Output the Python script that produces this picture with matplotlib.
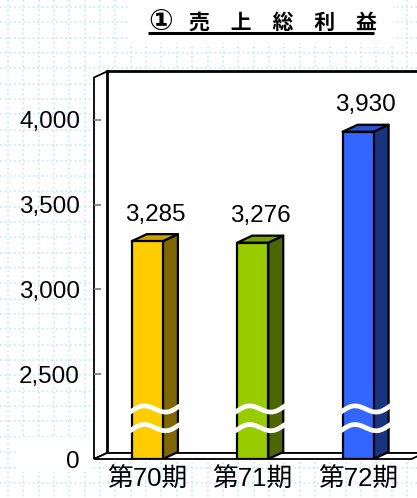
import numpy as np
import matplotlib
matplotlib.use("Agg")
import matplotlib.pyplot as plt
from matplotlib.patches import Polygon, Rectangle

plt.rcParams['font.family'] = ['Liberation Sans', 'Noto Sans CJK JP', 'DejaVu Sans']

# ---- data ----
categories = ["第70期", "第71期", "第72期"]
values = [3285, 3276, 3930]
value_labels = ["3,285", "3,276", "3,930"]
tick_values = [0, 2500, 3000, 3500, 4000]
tick_labels = ["0", "2,500", "3,000", "3,500", "4,000"]
title_mark = "①"
title = "売　上　総　利　益"

front_colors = ["#FFCC00", "#99CC00", "#3366FF"]
side_colors = ["#806600", "#4D6600", "#1A3380"]
top_colors = ["#C8A000", "#7AA300", "#2850D0"]

# axis break: value 0 is drawn at the position of 2000
BASE = 2000
YTOP = 4250
def ypos(v):
    return v if v >= 2500 else BASE

W, H = 417, 498
fig = plt.figure(figsize=(W / 100, H / 100), dpi=100)
fig.patch.set_facecolor("white")

# ---- background grid (pixel coordinates) ----
bg = fig.add_axes([0, 0, 1, 1], zorder=0)
bg.set_xlim(0, W)
bg.set_ylim(H, 0)
bg.axis("off")
grid_c = "#C8E6FA"
for gx in np.arange(8, W, 15.35):
    bg.plot([gx, gx], [0, H], color=grid_c, lw=1.2, ls=(0, (1, 1.8)))
for gy in np.arange(7, H, 15.35):
    bg.plot([0, W], [gy, gy], color=grid_c, lw=1.2, ls=(0, (1, 1.8)))
# white boxes (title, "0" label)
bg.add_patch(Rectangle((130, 0), 263, 43, facecolor="white", edgecolor="none", zorder=3))
bg.add_patch(Rectangle((17, 437), 77, 35, facecolor="white", edgecolor="none", zorder=3))
# title
bg.text(160.5, 22, title_mark, ha="center", va="center", fontsize=21, fontweight="bold",
        color="black", zorder=4, family=['DejaVu Sans', 'Noto Sans CJK JP'])
bg.text(282.5, 22, title, ha="center", va="center", fontsize=15, fontweight="bold",
        color="black", zorder=4, family=['Noto Sans CJK JP'])
bg.plot([148, 374], [32.5, 32.5], color="black", lw=2.2, zorder=4, solid_capstyle="butt")

# ---- main axes (front plane) ----
left_px, right_px = 94, 411.5
bot_px, top_px = 459, 77.5
ax = fig.add_axes([left_px / W, 1 - bot_px / H, (right_px - left_px) / W, (bot_px - top_px) / H],
                  zorder=1)
ax.patch.set_alpha(0)
x = np.arange(len(categories))
XL = (-0.507, 2.507)
ax.set_xlim(*XL)
ax.set_ylim(BASE, YTOP)
for s in ax.spines.values():
    s.set_visible(False)

pxx = (right_px - left_px) / (XL[1] - XL[0])
pxy = (bot_px - top_px) / (YTOP - BASE)
DXw, DYw = 13 / pxx, 6 / pxy      # wall depth
DXb, DYb = 15 / pxx, 7 / pxy      # bar depth
lw = 1.6

# back wall
ax.add_patch(Polygon([(XL[0] + DXw, BASE + DYw), (XL[0] + DXw, YTOP + DYw),
                      (XL[1] + DXw, YTOP + DYw), (XL[1] + DXw, BASE + DYw)],
                     closed=True, facecolor="white", edgecolor="black", lw=2.0,
                     zorder=1, clip_on=False))
# left wall
ax.add_patch(Polygon([(XL[0], BASE), (XL[0], YTOP), (XL[0] + DXw, YTOP + DYw),
                      (XL[0] + DXw, BASE + DYw)],
                     closed=True, facecolor="white", edgecolor="black", lw=1.3,
                     zorder=1.5, clip_on=False))
# floor
ax.add_patch(Polygon([(XL[0], BASE), (XL[0] + DXw, BASE + DYw), (XL[1] + DXw, BASE + DYw),
                      (XL[1], BASE)],
                     closed=True, facecolor="white", edgecolor="black", lw=1.3,
                     zorder=1.6, clip_on=False))

# ticks
ax.set_yticks([ypos(v) for v in tick_values])
ax.set_yticklabels(tick_labels, fontsize=17.5)
ax.tick_params(axis="y", direction="in", length=5.2, width=1.3, color="#808080",
               pad=10, left=True)
ax.set_xticks(x)
ax.set_xticklabels(categories, fontsize=18.5)
ax.tick_params(axis="x", length=0, pad=6)

# bars
Wb = 31 / pxx
ax.bar(x, [v - BASE for v in values], bottom=BASE, width=Wb, color=front_colors,
       edgecolor="black", linewidth=lw, zorder=3)
for i, v in enumerate(values):
    xr = x[i] + Wb / 2
    xl = x[i] - Wb / 2
    ax.add_patch(Polygon([(xr, BASE), (xr + DXb, BASE + DYb), (xr + DXb, v + DYb), (xr, v)],
                         closed=True, facecolor=side_colors[i], edgecolor="black",
                         lw=lw, zorder=2.9, joinstyle="round"))
    ax.add_patch(Polygon([(xl, v), (xl + DXb, v + DYb), (xr + DXb, v + DYb), (xr, v)],
                         closed=True, facecolor=top_colors[i], edgecolor="black",
                         lw=lw, zorder=2.9, joinstyle="round"))
    ax.annotate(value_labels[i], xy=(x[i] + DXb / 2, v + DYb), xytext=(0, 6),
                textcoords="offset points", ha="center", va="bottom", fontsize=17.5,
                zorder=5)
    # break marks
    for yc in (2295, 2185):
        t = np.linspace(0, 1, 40)
        wx = xl - 1.5 / pxx + t * (Wb + DXb + 3 / pxx)
        wy = yc + (4.5 * np.sin(2 * np.pi * t) + 6 * t - 3) / pxy
        ax.plot(wx, wy, color="white", lw=3.4, solid_capstyle="round", zorder=4)

fig.savefig("out.png", dpi=100)
